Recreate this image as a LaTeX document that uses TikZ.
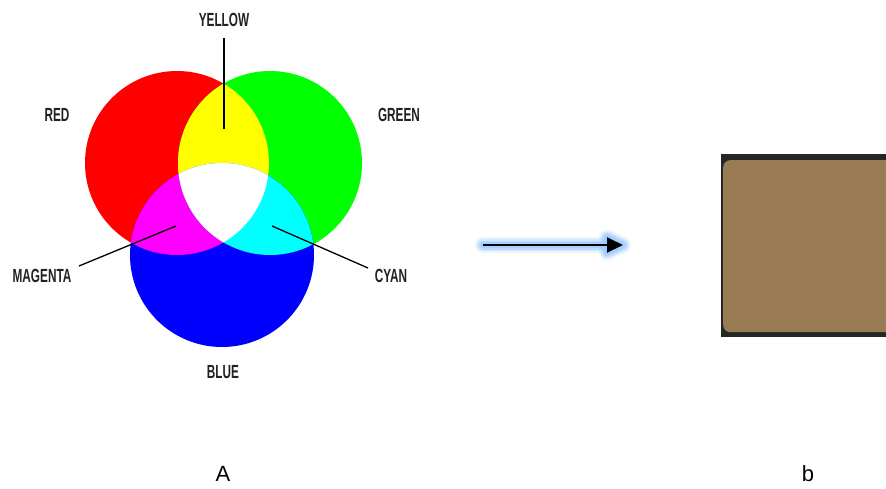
\documentclass[tikz,border=0pt]{standalone}
\usepackage{fontspec}
\setmainfont{Liberation Sans}
\newfontfamily\lblfont[FakeStretch=0.62]{Liberation Sans}
\usetikzlibrary{arrows.meta}
\definecolor{lblgray}{HTML}{222222}
\definecolor{glowblue}{HTML}{9CCBFF}
\definecolor{panelbrown}{HTML}{9A7C54}
\definecolor{paneldark}{HTML}{262626}
\definecolor{pred}{RGB}{255,0,0}
\definecolor{pgreen}{RGB}{0,255,0}
\definecolor{pblue}{RGB}{0,0,255}
\definecolor{pyellow}{RGB}{255,255,0}
\definecolor{pmagenta}{RGB}{255,0,255}
\definecolor{pcyan}{RGB}{0,255,255}
\tikzset{
  lbl/.style={font=\lblfont\bfseries\fontsize{19}{21}\selectfont, text=lblgray, inner sep=0pt},
  caption/.style={font=\fontsize{22}{24}\selectfont, text=black, inner sep=0pt},
  pointer/.style={draw=black, line width=1.3pt},
  glow/.style={draw=glowblue, line cap=round, line join=round},
}
\begin{document}
\begin{tikzpicture}[x=1pt,y=-1pt]
\useasboundingbox[fill=white] (0,0) rectangle (886,488);

% primaries
\def\R{92}
\coordinate (cr) at (177,163);
\coordinate (cg) at (270,163);
\coordinate (cb) at (222,255);
\fill[pred]   (cr) circle (\R);
\fill[pgreen] (cg) circle (\R);
\fill[pblue]  (cb) circle (\R);
% pairwise overlaps
\begin{scope}
  \clip (cr) circle (\R);
  \fill[pyellow] (cg) circle (\R);
  \fill[pmagenta] (cb) circle (\R);
\end{scope}
\begin{scope}
  \clip (cg) circle (\R);
  \fill[pcyan] (cb) circle (\R);
\end{scope}
% triple overlap
\begin{scope}
  \clip (cr) circle (\R);
  \clip (cg) circle (\R);
  \fill[white] (cb) circle (\R);
\end{scope}

% labels
\node[lbl] (yellowlbl) at (224,20) {YELLOW};
\node[lbl] (redlbl) at (57,115) {RED};
\node[lbl] (greenlbl) at (399,115) {GREEN};
\node[lbl] (magentalbl) at (42,276) {MAGENTA};
\node[lbl] (cyanlbl) at (391,276) {CYAN};
\node[lbl] (bluelbl) at (223,372) {BLUE};

% leader lines
\coordinate (ytop) at (224,38);
\coordinate (ytip) at (224,129);
\coordinate (mstart) at (79,266);
\coordinate (mtip) at (176,226);
\coordinate (cstart) at (368,268);
\coordinate (ctip) at (272,226);
\draw[pointer] (ytop) -- (ytip);
\draw[pointer] (mstart) -- (mtip);
\draw[pointer] (cstart) -- (ctip);

% arrow with soft glow
\coordinate (astart) at (483,245);
\coordinate (aend) at (623,245);
\coordinate (abase) at (607,245);
\foreach \w/\o in {16/0.2, 12/0.3, 9/0.45, 6/0.7} {
  \draw[glow, line width=\w pt, opacity=\o] (astart) -- (abase);
  \draw[glow, line width=\w pt, opacity=\o, fill=glowblue]
    (607,237.5) -- (aend) -- (607,252.5) -- cycle;
}
\draw[line width=2pt, -{Triangle[length=16pt,width=15pt]}] (astart) -- (aend);

% brown panel
\fill[paneldark] (721,154) rectangle (890,337);
\node[fill=panelbrown, rounded corners=7pt, minimum width=170pt, minimum height=172pt,
      inner sep=0pt, anchor=north west] (panel) at (723,160) {};

% captions
\node[caption] (capA) at (223,474) {A};
\node[caption] (capB) at (808,474) {b};
\end{tikzpicture}
\end{document}
